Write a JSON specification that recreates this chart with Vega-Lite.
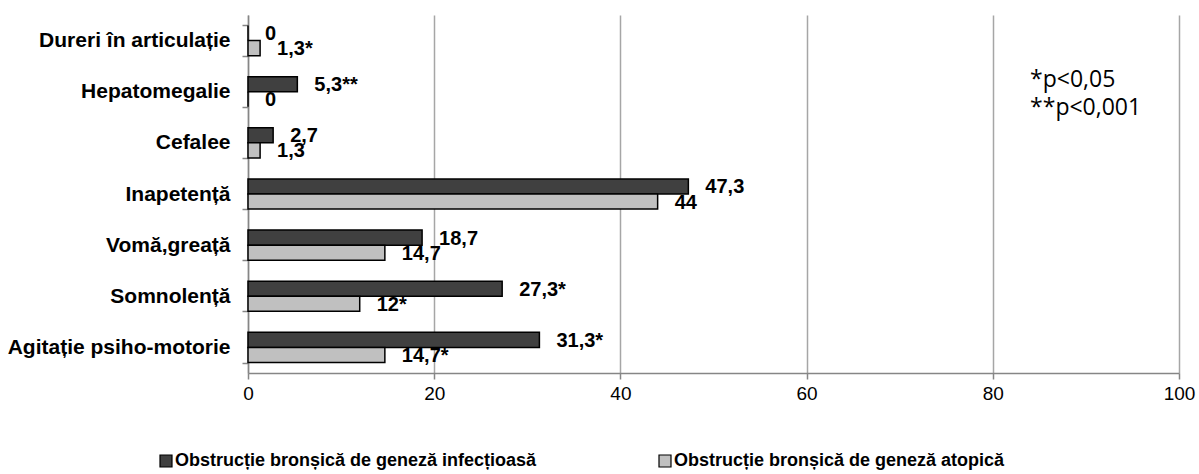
{
  "$schema": "https://vega.github.io/schema/vega-lite/v6.json",
  "width": 931,
  "height": 358,
  "autosize": "none",
  "padding": {"left": 248, "top": 15, "right": 20, "bottom": 101},
  "background": "white",
  "config": {
    "font": "Liberation Sans",
    "view": {"stroke": null}
  },
  "datasets": {
    "bars": [
      {"symptom": "Dureri în articulație", "series": "Obstrucție bronșică de geneză infecțioasă", "value": 0, "label": "0"},
      {"symptom": "Dureri în articulație", "series": "Obstrucție bronșică de geneză atopică", "value": 1.3, "label": "1,3*"},
      {"symptom": "Hepatomegalie", "series": "Obstrucție bronșică de geneză infecțioasă", "value": 5.3, "label": "5,3**"},
      {"symptom": "Hepatomegalie", "series": "Obstrucție bronșică de geneză atopică", "value": 0, "label": "0"},
      {"symptom": "Cefalee", "series": "Obstrucție bronșică de geneză infecțioasă", "value": 2.7, "label": "2,7"},
      {"symptom": "Cefalee", "series": "Obstrucție bronșică de geneză atopică", "value": 1.3, "label": "1,3"},
      {"symptom": "Inapetență", "series": "Obstrucție bronșică de geneză infecțioasă", "value": 47.3, "label": "47,3"},
      {"symptom": "Inapetență", "series": "Obstrucție bronșică de geneză atopică", "value": 44, "label": "44"},
      {"symptom": "Vomă,greață", "series": "Obstrucție bronșică de geneză infecțioasă", "value": 18.7, "label": "18,7"},
      {"symptom": "Vomă,greață", "series": "Obstrucție bronșică de geneză atopică", "value": 14.7, "label": "14,7"},
      {"symptom": "Somnolență", "series": "Obstrucție bronșică de geneză infecțioasă", "value": 27.3, "label": "27,3*"},
      {"symptom": "Somnolență", "series": "Obstrucție bronșică de geneză atopică", "value": 12, "label": "12*"},
      {"symptom": "Agitație psiho-motorie", "series": "Obstrucție bronșică de geneză infecțioasă", "value": 31.3, "label": "31,3*"},
      {"symptom": "Agitație psiho-motorie", "series": "Obstrucție bronșică de geneză atopică", "value": 14.7, "label": "14,7*"}
    ],
    "notes": [
      {"symptom": "Hepatomegalie", "value": 84, "note": "*p<0,05\n**p<0,001"}
    ]
  },
  "layer": [
    {
      "data": {"name": "bars"},
      "mark": {"type": "bar", "stroke": "#000000", "strokeWidth": 1.5},
      "encoding": {
        "y": {
          "field": "symptom",
          "type": "nominal",
          "sort": ["Dureri în articulație", "Hepatomegalie", "Cefalee", "Inapetență", "Vomă,greață", "Somnolență", "Agitație psiho-motorie"],
          "scale": {"paddingInner": 0.41, "paddingOuter": 0.205},
          "axis": {
            "title": null,
            "tickBand": "extent",
            "domainColor": "#868686",
            "domainWidth": 1.5,
            "tickColor": "#868686",
            "tickWidth": 1.5,
            "tickSize": 6,
            "labelFont": "Liberation Sans",
            "labelFontWeight": "bold",
            "labelFontSize": 21,
            "labelColor": "#000000",
            "labelPadding": 12,
            "labelLimit": 400
          }
        },
        "yOffset": {
          "field": "series",
          "type": "nominal",
          "sort": ["Obstrucție bronșică de geneză infecțioasă", "Obstrucție bronșică de geneză atopică"],
          "scale": {"paddingInner": 0, "paddingOuter": 0}
        },
        "x": {
          "field": "value",
          "type": "quantitative",
          "scale": {"domain": [0, 100], "nice": false, "zero": true},
          "axis": {
            "title": null,
            "values": [0, 20, 40, 60, 80, 100],
            "grid": true,
            "gridColor": "#a6a6a6",
            "gridWidth": 1.5,
            "domainColor": "#868686",
            "domainWidth": 1.5,
            "tickColor": "#868686",
            "tickWidth": 1.5,
            "tickSize": 6,
            "labelFont": "Liberation Sans",
            "labelFontSize": 19,
            "labelColor": "#000000",
            "labelPadding": 5,
            "labelFlush": false
          }
        },
        "color": {
          "field": "series",
          "type": "nominal",
          "sort": ["Obstrucție bronșică de geneză infecțioasă", "Obstrucție bronșică de geneză atopică"],
          "scale": {
            "domain": ["Obstrucție bronșică de geneză infecțioasă", "Obstrucție bronșică de geneză atopică"],
            "range": ["#404040", "#c0c0c0"]
          },
          "legend": {
            "title": null,
            "orient": "none",
            "direction": "horizontal",
            "columns": 2,
            "legendX": -91,
            "legendY": 437,
            "padding": 0,
            "symbolType": "square",
            "symbolSize": 144,
            "symbolStrokeColor": "#000000",
            "symbolStrokeWidth": 1.2,
            "symbolOpacity": 1,
            "labelFont": "Liberation Sans",
            "labelFontWeight": "bold",
            "labelFontSize": 18,
            "labelColor": "#000000",
            "labelLimit": 600,
            "labelOffset": 0,
            "columnPadding": 119
          }
        }
      }
    },
    {
      "data": {"name": "bars"},
      "mark": {"type": "text", "align": "left", "baseline": "middle", "dx": 17, "dy": 1, "font": "Liberation Sans", "fontWeight": "bold", "fontSize": 20, "color": "#000000"},
      "encoding": {
        "y": {"field": "symptom", "type": "nominal", "sort": ["Dureri în articulație", "Hepatomegalie", "Cefalee", "Inapetență", "Vomă,greață", "Somnolență", "Agitație psiho-motorie"]},
        "yOffset": {
          "field": "series",
          "type": "nominal",
          "sort": ["Obstrucție bronșică de geneză infecțioasă", "Obstrucție bronșică de geneză atopică"]
        },
        "x": {"field": "value", "type": "quantitative"},
        "text": {"field": "label", "type": "nominal"}
      }
    },
    {
      "data": {"name": "notes"},
      "mark": {"type": "text", "align": "left", "baseline": "middle", "lineBreak": "\n", "lineHeight": 28, "font": "Open Sans", "fontSize": 23, "color": "#000000", "dy": -12},
      "encoding": {
        "y": {"field": "symptom", "type": "nominal", "sort": ["Dureri în articulație", "Hepatomegalie", "Cefalee", "Inapetență", "Vomă,greață", "Somnolență", "Agitație psiho-motorie"]},
        "x": {"field": "value", "type": "quantitative"},
        "text": {"field": "note", "type": "nominal"}
      }
    }
  ]
}
